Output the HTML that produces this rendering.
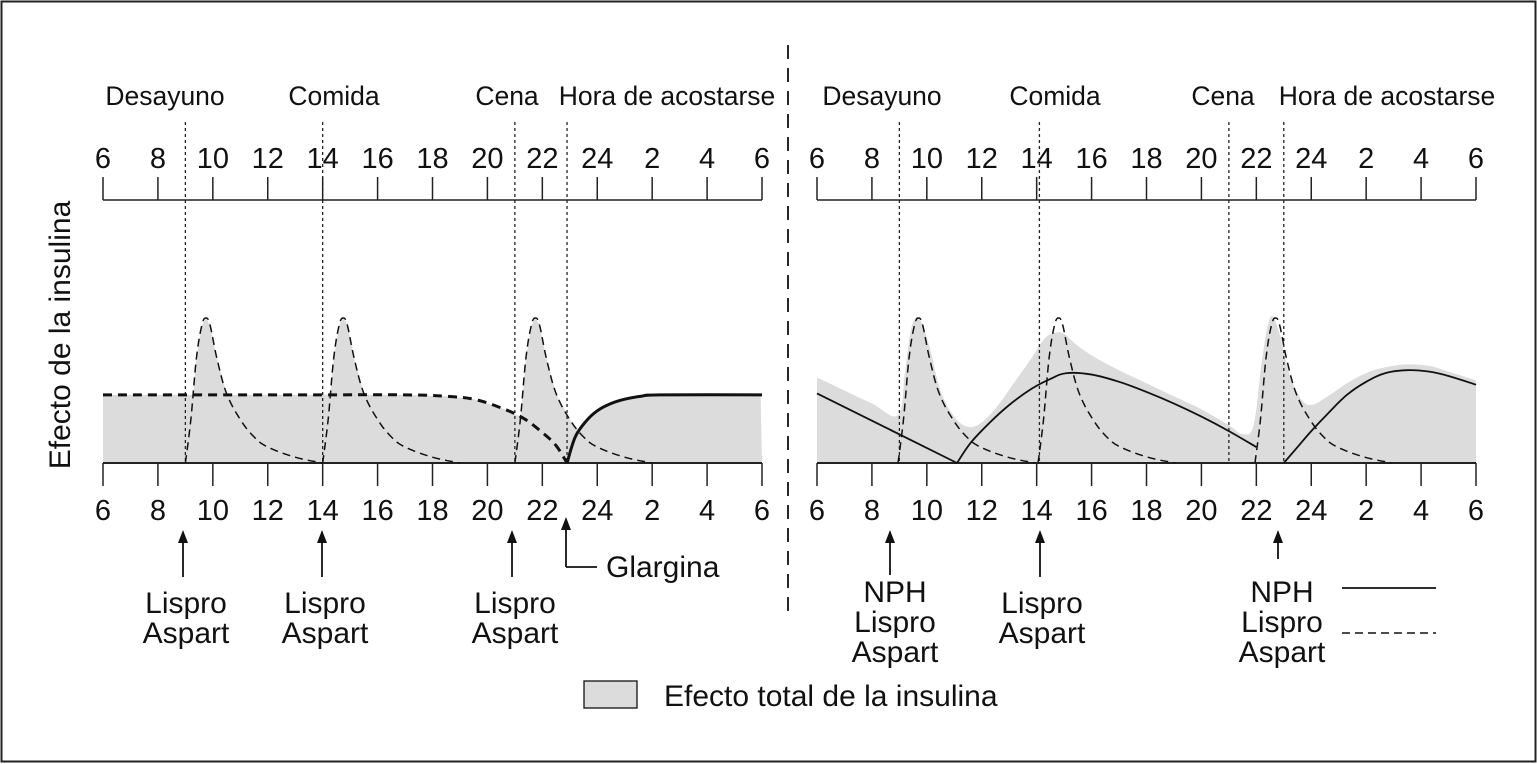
<!DOCTYPE html>
<html><head><meta charset="utf-8"><style>
html,body{margin:0;padding:0;background:#fff}
svg{display:block;font-family:"Liberation Sans",Arial,sans-serif}
</style></head><body>
<svg id="chart" width="1537" height="764" viewBox="0 0 1537 764">
<rect x="1.5" y="1.5" width="1534" height="760" fill="#fff" stroke="#222" stroke-width="2"/>
<g id="plot"></g>
</svg>
<script>
// ---- data ----
const hourTicks = [6,8,10,12,14,16,18,20,22,24,2,4,6];
const mealNames = ["Desayuno","Comida","Cena","Hora de acostarse"];
const mealHoursLeft = [9,14,21,22.9];
const mealHoursRight = [9,14.1,21,23];
// left panel curves (hour, effect 0..100)
const lisproShapeH = [0,0.2,0.4,0.6,0.75,0.9,1.15,1.5,2,2.5,3,4,5];
const lisproShapeV = [0,30,72,95,100,95,72,48,30,18,11,4,0];
const leftLisproStarts = [9,14,21];
const oldGlarginaH = [6,10,14,17,18.5,19.5,20.5,21.3,22,22.5,22.9];
const oldGlarginaV = [47,47,47,47,46,44,38,31,21,12,0];
const newGlarginaH = [22.9,23.2,23.6,24,24.5,25,25.6,26.3,30];
const newGlarginaV = [0,18,29,36,41,44,46,47,47];
// right panel
const rightLisproStarts = [8.95,14.05,21.95];
const npsPrevH = [6,11.1];
const npsPrevV = [48,0];
const nphMorningH = [11.1,11.6,12.3,13,13.8,14.5,15.1,16,17,18,19,20,21,22];
const nphMorningV = [0,14,28,40,51,58,62,61,56,49,41,32,22,11];
const nphNightH = [23,23.5,24,24.6,25.3,26,26.7,27.5,28.3,29,30];
const nphNightV = [0,11,22,34,47,56,62,64,63,60,54];
const shadeRightH = [6,7,8,8.95,9.2,9.4,9.6,9.8,10.1,10.5,11,11.5,12,12.6,13.2,13.8,14.3,14.7,15,15.3,15.7,16.2,17,18,19,20,21,21.5,21.9,22.2,22.5,22.8,23.2,23.6,24,24.6,25.3,26,26.7,27.5,28.3,29,30];
const shadeRightV = [59,50,41,33,62,90,100,97,80,50,32,25,28,40,56,72,86,90,89,84,78,72,64,55,46,37,26,20,26,70,100,92,62,45,40,46,55,62,66,68,67,63,57];

// ---- geometry ----
const NS="http://www.w3.org/2000/svg";
const plot=document.getElementById('plot');
const PX_H=659/24, BASE=463, VSCALE=145/100;
function xL(h){return 103+(h-6)*PX_H;}
function xR(h){return 817+(h-6)*PX_H;}
function yv(v){return BASE-v*VSCALE;}
function mk(tag,attrs,parent){const e=document.createElementNS(NS,tag);for(const k in attrs)e.setAttribute(k,attrs[k]);(parent||plot).appendChild(e);return e;}
function smooth(pts){let d=`M${pts[0][0]},${pts[0][1]}`;for(let i=0;i<pts.length-1;i++){const p0=pts[i-1]||pts[i],p1=pts[i],p2=pts[i+1],p3=pts[i+2]||p2;const t=0.18;const c1=[p1[0]+(p2[0]-p0[0])*t,p1[1]+(p2[1]-p0[1])*t],c2=[p2[0]-(p3[0]-p1[0])*t,p2[1]-(p3[1]-p1[1])*t];d+=` C${c1[0]},${c1[1]} ${c2[0]},${c2[1]} ${p2[0]},${p2[1]}`;}return d;}
function pts(H,V,xf){return H.map((h,i)=>[xf(h),yv(V[i])]);}
function lispro(start){return {H:lisproShapeH.map(d=>start+d),V:lisproShapeV};}
function interp(H,V,h){if(h<H[0]||h>H[H.length-1])return 0;for(let i=0;i<H.length-1;i++){if(h>=H[i]&&h<=H[i+1]){const t=(h-H[i])/(H[i+1]-H[i]||1);return V[i]+(V[i+1]-V[i])*t;}}return 0;}

// ---- left shading (max of curves) ----
const leftCurves=[{H:oldGlarginaH,V:oldGlarginaV},{H:newGlarginaH,V:newGlarginaV}].concat(leftLisproStarts.map(lispro));
const shadeL=[];
for(let h=6;h<=30.001;h+=0.05){let m=0;leftCurves.forEach(c=>{m=Math.max(m,interp(c.H,c.V,h));});shadeL.push([xL(h),yv(m)]);}
let sd="M"+xL(6)+","+BASE+" "+shadeL.map(p=>"L"+p[0]+","+p[1]).join(" ")+" L"+xL(30)+","+BASE+"Z";
let e=mk('path',{d:sd,fill:'#dcdcdc'});


// right shading
const sr=pts(shadeRightH,shadeRightV,xR);
e=mk('path',{d:smooth(sr)+` L${xR(30)},${BASE} L${xR(6)},${BASE} Z`,fill:'#dcdcdc'});



// ---- axes ----
function axes(xf,side){
  e=mk('line',{x1:xf(6),x2:xf(30),y1:200,y2:200,stroke:'#222','stroke-width':1.5});
  
  
  e=mk('line',{x1:xf(6),x2:xf(30),y1:BASE,y2:BASE,stroke:'#222','stroke-width':2});
  
  
  hourTicks.forEach((lab,i)=>{const x=xf(6+2*i);
    mk('line',{x1:x,x2:x,y1:177,y2:200,stroke:'#222','stroke-width':1.5});
    mk('line',{x1:x,x2:x,y1:BASE,y2:BASE+23,stroke:'#222','stroke-width':1.5});
    e=mk('text',{x:x,y:168,'text-anchor':'middle','font-size':29,fill:'#111'});e.textContent=lab;
    
    
    e=mk('text',{x:x,y:520,'text-anchor':'middle','font-size':29,fill:'#111'});e.textContent=lab;
    
    
  });
}
axes(xL,'left');axes(xR,'right');

// meal labels & dotted lines
const mealLabelX=[[165,334,507,667],[882,1055,1223,1387]];
[[mealHoursLeft,xL],[mealHoursRight,xR]].forEach(([mh,xf],pi)=>{
  mh.forEach((h,i)=>{const x=xf(h);
    e=mk('line',{x1:x,x2:x,y1:122,y2:BASE,stroke:'#222','stroke-width':1.3,'stroke-dasharray':'3,3'});
    
    
    e=mk('text',{x:mealLabelX[pi][i],y:105,'text-anchor':'middle','font-size':26.5,fill:'#111'});e.textContent=mealNames[i];
    
    
  });
});

// ---- curves ----
leftLisproStarts.forEach(s=>{const c=lispro(s);
  e=mk('path',{d:smooth(pts(c.H,c.V,xL)),fill:'none',stroke:'#111','stroke-width':1.5,'stroke-dasharray':'8,5'});
  
  
});
e=mk('path',{d:smooth(pts(oldGlarginaH,oldGlarginaV,xL)),fill:'none',stroke:'#111','stroke-width':3,'stroke-dasharray':'9,6'});


e=mk('path',{d:smooth(pts(newGlarginaH,newGlarginaV,xL)),fill:'none',stroke:'#111','stroke-width':3});


rightLisproStarts.forEach(s=>{const c=lispro(s);
  e=mk('path',{d:smooth(pts(c.H,c.V,xR)),fill:'none',stroke:'#111','stroke-width':1.5,'stroke-dasharray':'8,5'});
  
  
});
[[npsPrevH,npsPrevV,'previous-nph-curve'],[nphMorningH,nphMorningV,'morning-nph-curve'],[nphNightH,nphNightV,'bedtime-nph-curve']].forEach(([H,V,n])=>{
  e=mk('path',{d:smooth(pts(H,V,xR)),fill:'none',stroke:'#111','stroke-width':1.8});
  
  
});

// ---- arrows & labels ----
function arrow(x,y1,y2){mk('line',{x1:x,x2:x,y1:y2,y2:y1+10,stroke:'#111','stroke-width':1.8});
  e=mk('path',{d:`M${x-5},${y1+13} L${x},${y1} L${x+5},${y1+13}Z`,fill:'#111'});
  
  }
function label(x,y,lines){lines.forEach((t,i)=>{e=mk('text',{x:x,y:y+i*30,'text-anchor':'middle','font-size':30,fill:'#111'});e.textContent=t;
  
  });}
arrow(183,530,577);label(186,613,["Lispro","Aspart"]);
arrow(322,530,577);label(325,613,["Lispro","Aspart"]);
arrow(512,530,577);label(515,613,["Lispro","Aspart"]);
arrow(566,517,567);mk('line',{x1:566,x2:597,y1:567,y2:567,stroke:'#111','stroke-width':1.8});
e=mk('text',{x:606,y:577,'font-size':30,fill:'#111'});e.textContent="Glargina";


arrow(890,530,575);label(895,602,["NPH","Lispro","Aspart"]);
arrow(1040,530,577);label(1042,613,["Lispro","Aspart"]);
arrow(1278,530,559);label(1282,602,["NPH","Lispro","Aspart"]);
e=mk('line',{x1:1342,x2:1436,y1:588,y2:588,stroke:'#111','stroke-width':1.8});


e=mk('line',{x1:1342,x2:1436,y1:633,y2:633,stroke:'#111','stroke-width':1.4,'stroke-dasharray':'8,5'});



// divider
e=mk('line',{x1:788,x2:788,y1:45,y2:615,stroke:'#111','stroke-width':1.8,'stroke-dasharray':'14,9'});



// legend
e=mk('rect',{x:584,y:681,width:53,height:27,fill:'#dcdcdc',stroke:'#111','stroke-width':1.3});


e=mk('text',{x:664,y:706,'font-size':30,fill:'#111'});e.textContent="Efecto total de la insulina";



// y title
e=mk('text',{x:0,y:0,'font-size':30,fill:'#111','text-anchor':'middle',transform:'translate(70,335) rotate(-90)'});e.textContent="Efecto de la insulina";


</script>
</body></html>
